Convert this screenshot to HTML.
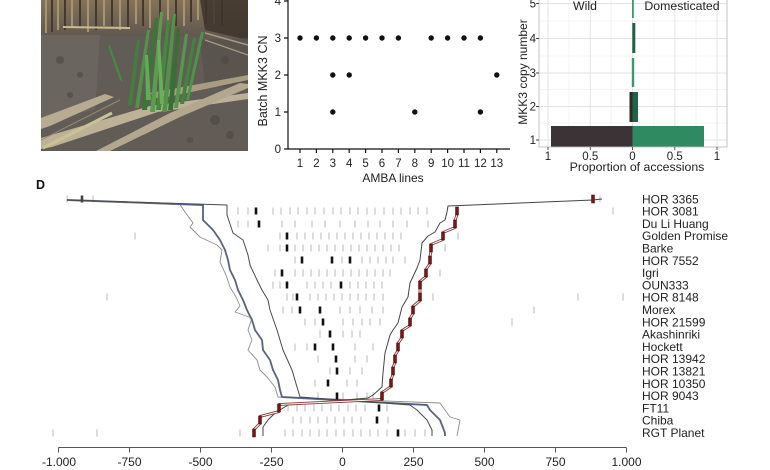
<!DOCTYPE html>
<html><head><meta charset="utf-8"><style>
html,body{margin:0;padding:0;background:#fff;}
svg{display:block;font-family:"Liberation Sans",Arial,sans-serif;}
</style></head><body>
<svg width="770" height="470" viewBox="0 0 770 470" xmlns="http://www.w3.org/2000/svg">
<rect width="770" height="470" fill="#fff"/>
<defs>
<clipPath id="ph"><rect x="41" y="0" width="207" height="151"/></clipPath>
<linearGradient id="top" x1="0" y1="0" x2="0" y2="1">
<stop offset="0" stop-color="#857358"/><stop offset="1" stop-color="#615850"/></linearGradient>
</defs>
<!-- Photo -->
<g clip-path="url(#ph)">
<rect x="41" y="0" width="207" height="151" fill="#625c57"/>
<rect x="41" y="0" width="207" height="36" fill="url(#top)"/>
<g stroke-width="2">
<path d="M46 0v33M58 0v30M72 0v28M88 0v32M104 0v26M120 0v30M136 0v24M150 0v28M168 0v22M184 0v26M198 0v20M214 0v24" stroke="#a8946e"/>
<path d="M52 0v32M65 0v30M80 0v28M96 0v30M112 0v26M128 0v28M143 0v26M160 0v24M176 0v26M191 0v22M206 0v24M222 0v26" stroke="#45392e"/>
</g>
<polygon points="200,0 248,0 248,40 205,30" fill="#3d342c" opacity="0.85"/>
<polygon points="41,35 100,35 95,110 41,120" fill="#736d67" opacity="0.5"/>
<polygon points="200,40 248,38 248,90 205,85" fill="#57514c" opacity="0.7"/>
<g fill="#4d4843" opacity="0.6">
<circle cx="60" cy="60" r="4"/><circle cx="80" cy="75" r="3"/><circle cx="215" cy="120" r="5"/><circle cx="230" cy="135" r="4"/><circle cx="190" cy="140" r="3"/><circle cx="70" cy="95" r="3"/><circle cx="225" cy="60" r="4"/>
</g>
<path d="M63 27 L130 28" stroke="#c9bd8c" stroke-width="2"/>
<path d="M205 33 L248 45" stroke="#a99b7c" stroke-width="1.5"/>
<path d="M205 40 L248 55" stroke="#a99b7c" stroke-width="1.2"/>
<!-- straw spikes -->
<polygon points="41,118 105,94 114,97 50,126 41,129" fill="#b7ac92"/>
<polygon points="41,138 150,106 248,93 248,99 158,112 52,147 41,149" fill="#bdb297"/>
<polygon points="96,151 170,113 240,83 248,84 248,88 180,117 110,151" fill="#b3a88d"/>
<polygon points="150,93 248,75 248,80 158,99" fill="#a89d82"/>
<path d="M43 148 L112 113" stroke="#c8c492" stroke-width="3"/>
<path d="M41 140 L120 100" stroke="#958a70" stroke-width="1"/>
<!-- green shoots -->
<g>
<polygon points="128,105 132,105 140,40 137,40" fill="#437f3c"/>
<polygon points="135,108 139,108 150,30 147,30" fill="#52934a"/>
<polygon points="142,110 147,110 158,18 155,18" fill="#3a7634"/>
<polygon points="150,112 155,112 163,12 160,12" fill="#599d4f"/>
<polygon points="156,110 161,110 170,20 167,20" fill="#428a3d"/>
<polygon points="162,112 167,112 176,14 173,14" fill="#4f9447"/>
<polygon points="168,110 173,110 180,28 177,28" fill="#386f32"/>
<polygon points="174,108 178,108 188,34 185,34" fill="#55984b"/>
<polygon points="180,104 184,104 196,38 193,38" fill="#43843d"/>
<polygon points="186,100 189,100 204,32 201,32" fill="#4f9446"/>
<polygon points="120,80 123,82 110,45 108,46" fill="#468a40"/>
<polygon points="146,100 151,100 148,55 145,55" fill="#67a95b"/>
<polygon points="160,104 164,104 160,40 157,40" fill="#6cad5e"/>
</g>
</g>

<!-- Dot plot -->
<g stroke="#111" stroke-width="1.2" fill="none">
<path d="M288 0 V148.5 M284 149 H510"/>
<path d="M284 112H288M284 75H288M284 38H288M284 1H288"/>
<path d="M300 149v4M316.4 149v4M332.8 149v4M349.2 149v4M365.6 149v4M382 149v4M398.4 149v4M414.8 149v4M431.2 149v4M447.6 149v4M464 149v4M480.4 149v4M496.8 149v4"/>
</g>
<g font-size="11.5" fill="#222" text-anchor="end">
<text x="281" y="153">0</text><text x="281" y="116">1</text><text x="281" y="79">2</text><text x="281" y="42">3</text><text x="281" y="5">4</text>
</g>
<g font-size="11.5" fill="#222" text-anchor="middle">
<text x="300" y="167">1</text><text x="316.4" y="167">2</text><text x="332.8" y="167">3</text><text x="349.2" y="167">4</text><text x="365.6" y="167">5</text><text x="382" y="167">6</text><text x="398.4" y="167">7</text><text x="414.8" y="167">8</text><text x="431.2" y="167">9</text><text x="447.6" y="167">10</text><text x="464" y="167">11</text><text x="480.4" y="167">12</text><text x="496.8" y="167">13</text>
<text x="393" y="182" font-size="12">AMBA lines</text>
<text transform="translate(267,81) rotate(-90)" font-size="12.5">Batch MKK3 CN</text>
</g>
<g fill="#111">
<circle cx="300" cy="38" r="2.7"/><circle cx="316.4" cy="38" r="2.7"/><circle cx="332.8" cy="38" r="2.7"/><circle cx="332.8" cy="75" r="2.7"/><circle cx="332.8" cy="112" r="2.7"/>
<circle cx="349.2" cy="38" r="2.7"/><circle cx="349.2" cy="75" r="2.7"/><circle cx="365.6" cy="38" r="2.7"/><circle cx="382" cy="38" r="2.7"/><circle cx="398.4" cy="38" r="2.7"/>
<circle cx="414.8" cy="112" r="2.7"/><circle cx="431.2" cy="38" r="2.7"/><circle cx="447.6" cy="38" r="2.7"/><circle cx="464" cy="38" r="2.7"/><circle cx="480.4" cy="38" r="2.7"/><circle cx="480.4" cy="112" r="2.7"/><circle cx="496.8" cy="75" r="2.7"/>
</g>

<!-- Bar chart -->
<g>
<path d="M569 -2V147M611 -2V147M654 -2V147M696 -2V147M539 123H727M539 89.5H727M539 56H727M539 21H727" stroke="#f1f1f1" stroke-width="0.8"/>
<path d="M548 -2V147M590.3 -2V147M632.5 -2V147M674.8 -2V147M717 -2V147M539 140H727M539 106.5H727M539 73H727M539 38.5H727M539 3.5H727" stroke="#e3e3e3" stroke-width="1"/>
<rect x="551" y="126" width="81.5" height="21" fill="#3b3335"/>
<rect x="632.5" y="126" width="71.5" height="21" fill="#2f8a62"/>
<rect x="629.5" y="92" width="3" height="30" fill="#2e2a2a"/>
<rect x="632.5" y="92" width="5.5" height="30" fill="#1f6545"/>
<rect x="631.8" y="58" width="2.4" height="29" fill="#3a9a6c"/>
<rect x="632.3" y="23" width="3" height="30" fill="#1c6242"/>
<rect x="632" y="-2" width="1.8" height="20" fill="#3a9a6c"/>
<rect x="539" y="-5" width="188" height="152" fill="none" stroke="#bdbdbd" stroke-width="0.9"/>
<path d="M536 140h3M536 106.5h3M536 73h3M536 38.5h3M536 3.5h3M548 147v3M590.3 147v3M632.5 147v3M674.8 147v3M717 147v3" stroke="#444" stroke-width="0.9"/>
</g>
<g font-size="11.5" fill="#222" text-anchor="end">
<text x="536" y="144">1</text><text x="536" y="110.5">2</text><text x="536" y="77">3</text><text x="536" y="42.5">4</text><text x="536" y="7.5">5</text>
</g>
<g font-size="11.5" fill="#222" text-anchor="middle">
<text x="548" y="160">1</text><text x="590.3" y="160">0.5</text><text x="632.5" y="160">0</text><text x="674.8" y="160">0.5</text><text x="717" y="160">1</text>
<text x="637" y="171" font-size="12.3">Proportion of accessions</text>
<text x="585" y="10" font-size="12.3">Wild</text>
<text x="682" y="10" font-size="12.3">Domesticated</text>
<text transform="translate(527,72) rotate(-90)" font-size="12">MKK3 copy number</text>
</g>

<!-- Panel D -->
<text x="36" y="189" font-size="12.5" font-weight="bold" fill="#111">D</text>

<!-- grey ticks -->
<g stroke="#b8b8b8" stroke-width="1" fill="none">
<path d="M67 195.5v7M93 195.5v7M600 195.5v7"/>
<path d="M238 207.5v7M248 207.5v7M273 207.5v7M281 207.5v7M290 207.5v7M298 207.5v7M307 207.5v7M315 207.5v7M324 207.5v7M333 207.5v7M341 207.5v7M350 207.5v7M358 207.5v7M367 207.5v7M375 207.5v7M384 207.5v7M393 207.5v7M401 207.5v7M410 207.5v7M418 207.5v7M427 207.5v7M613 207.5v7"/>
<path d="M238 220.5v7M248 220.5v7M282 220.5v7M295 220.5v7M312 220.5v7M325 220.5v7M340 220.5v7M355 220.5v7M368 220.5v7M380 220.5v7M393 220.5v7M407 220.5v7M428 220.5v7"/>
<path d="M135 232.5v7M280 232.5v7M297 232.5v7M305 232.5v7M313 232.5v7M321 232.5v7M329 232.5v7M337 232.5v7M345 232.5v7M353 232.5v7M361 232.5v7M369 232.5v7M377 232.5v7M385 232.5v7M393 232.5v7M401 232.5v7M458 232.5v7"/>
<path d="M268 244.5v7M280 244.5v7M295 244.5v7M303 244.5v7M311 244.5v7M319 244.5v7M327 244.5v7M335 244.5v7M343 244.5v7M351 244.5v7M359 244.5v7M367 244.5v7M375 244.5v7M383 244.5v7M391 244.5v7M399 244.5v7M445 244.5v7"/>
<path d="M295 256.5v7M342 256.5v7M362 256.5v7M370 256.5v7M378 256.5v7M386 256.5v7M393 256.5v7M405 256.5v7"/>
<path d="M275 269.5v7M295 269.5v7M303 269.5v7M311 269.5v7M319 269.5v7M327 269.5v7M335 269.5v7M343 269.5v7M351 269.5v7M359 269.5v7M367 269.5v7M375 269.5v7M383 269.5v7M390 269.5v7M440 269.5v7"/>
<path d="M273 281.5v7M280 281.5v7M307 281.5v7M315 281.5v7M323 281.5v7M331 281.5v7M350 281.5v7M358 281.5v7M366 281.5v7M374 281.5v7M382 281.5v7"/>
<path d="M107 293.5v7M287 293.5v7M293 293.5v7M310 293.5v7M318 293.5v7M326 293.5v7M334 293.5v7M342 293.5v7M350 293.5v7M358 293.5v7M366 293.5v7M374 293.5v7M383 293.5v7M433 293.5v7M578 293.5v7M623 293.5v7"/>
<path d="M283 306.5v7M292 306.5v7M340 306.5v7M350 306.5v7M360 306.5v7M372 306.5v7M383 306.5v7M534 306.5v7"/>
<path d="M305 318.5v7M315 318.5v7M343 318.5v7M353 318.5v7M362 318.5v7M370 318.5v7M380 318.5v7M512 318.5v7"/>
<path d="M320 330.5v7M343 330.5v7M352 330.5v7M360 330.5v7"/>
<path d="M295 343.5v7M307 343.5v7M355 343.5v7M373 343.5v7"/>
<path d="M318 355.5v7M355 355.5v7M367 355.5v7"/>
<path d="M330 367.5v7M350 367.5v7M362 367.5v7"/>
<path d="M315 379.5v7M347 379.5v7M357 379.5v7"/>
<path d="M318 392.5v7M343 392.5v7M357 392.5v7M367 392.5v7M373 392.5v7"/>
<path d="M288 404.5v7M297 404.5v7M305 404.5v7M314 404.5v7M322 404.5v7M331 404.5v7M339 404.5v7M348 404.5v7M356 404.5v7M365 404.5v7M387 404.5v7"/>
<path d="M293 416.5v7M301 416.5v7M310 416.5v7M318 416.5v7M327 416.5v7M335 416.5v7M344 416.5v7M352 416.5v7M361 416.5v7M388 416.5v7"/>
<path d="M53 429.5v7M97 429.5v7M240 429.5v7M285 429.5v7M293 429.5v7M302 429.5v7M310 429.5v7M319 429.5v7M327 429.5v7M336 429.5v7M344 429.5v7M353 429.5v7M361 429.5v7M370 429.5v7M378 429.5v7M387 429.5v7M405 429.5v7M415 429.5v7M425 429.5v7"/>
</g>

<!-- lines -->
<g fill="none" stroke-linejoin="round">
<polyline stroke="#8c8c8c" stroke-width="0.9" points="67,200 180,204.5 185,212 193,223 190,227 200,237 217,245 222,250 220,262 226,275 230,287 236,297 240,306 235,312 252,318 248,330 252,340 248,350 257,360 260,370 267,377 275,387 278,397 440,403 450,417 460,420 457,436"/>
<polyline stroke="#707070" stroke-width="1.9" points="67,200 203,205 203,220 213,230 220,240 225,250 228,260 230,270 235,280 238,290 243,300 247,310 252,320 255,330 262,340 263,350 270,360 273,370 278,380 280,390 282,397 427,405 430,410 440,420 445,433 445,436"/>
<polyline stroke="#4a6298" stroke-width="0.9" points="67,200 203,205 203,220 213,230 220,240 225,250 228,260 230,270 235,280 238,290 243,300 247,310 252,320 255,330 262,340 263,350 270,360 273,370 278,380 280,390 282,397 427,405 430,410 440,420 445,433 445,436"/>
<polyline stroke="#4a4a4a" stroke-width="1" points="67,200 227,205 227,215 233,233 243,240 248,255 250,265 257,280 262,290 268,300 270,310 277,330 283,350 292,370 297,387 300,397 410,405 417,410 427,420 432,430 432,436"/>
<polyline stroke="#444" stroke-width="1" points="602,199 593,200 448,206 447,212 445,220 440,223 435,232 428,236 422,243 420,260 417,268 410,283 408,297 402,307 398,323 393,330 390,335 385,353 383,373 382,387 373,395 368,398 288,405 275,413 268,420 263,427 263,436"/>
<polyline stroke="#8a3434" stroke-width="2.8" points="457,207 457,214.5 455,220.5 455,227.5 443,232.5 443,239.5 431,244.5 431,251.5 430,256.5 430,263.5 426,269.5 426,276.5 420,281.5 420,300.5 413,306.5 413,313.5 410,318.5 410,325.5 402,330.5 402,337.5 398,343.5 398,350.5 395,355.5 395,362.5 393,367.5 393,374.5 391,379.5 391,386.5 382,392.5 382,399.5 279,404.5 279,411.5 260,416.5 260,423.5 254,429.5 254,436.5"/>
<polyline stroke="#fff" stroke-width="1" points="457,207 457,214.5 455,220.5 455,227.5 443,232.5 443,239.5 431,244.5 431,251.5 430,256.5 430,263.5 426,269.5 426,276.5 420,281.5 420,300.5 413,306.5 413,313.5 410,318.5 410,325.5 402,330.5 402,337.5 398,343.5 398,350.5 395,355.5 395,362.5 393,367.5 393,374.5 391,379.5 391,386.5 382,392.5 382,399.5 279,404.5 279,411.5 260,416.5 260,423.5 254,429.5 254,436.5"/>
</g>

<!-- red ticks -->
<g fill="#7d1515" stroke="#3a0a0a" stroke-width="0.5">
<rect x="591.5" y="195" width="3" height="8"/><rect x="455.5" y="207" width="3" height="8"/><rect x="453.5" y="220" width="3" height="8"/><rect x="441.5" y="232" width="3" height="8"/><rect x="429.5" y="244" width="3" height="8"/><rect x="428.5" y="256" width="3" height="8"/><rect x="424.5" y="269" width="3" height="8"/><rect x="418.5" y="281" width="3" height="8"/><rect x="418.5" y="293" width="3" height="8"/><rect x="411.5" y="306" width="3" height="8"/><rect x="408.5" y="318" width="3" height="8"/><rect x="400.5" y="330" width="3" height="8"/><rect x="396.5" y="343" width="3" height="8"/><rect x="393.5" y="355" width="3" height="8"/><rect x="391.5" y="367" width="3" height="8"/><rect x="389.5" y="379" width="3" height="8"/><rect x="380.5" y="392" width="3" height="8"/><rect x="277.5" y="404" width="3" height="8"/><rect x="258.5" y="416" width="3" height="8"/><rect x="252.5" y="429" width="3" height="8"/>
</g>

<!-- black ticks -->
<g fill="#111">
<rect x="80.7" y="195.5" width="2.6" height="7" fill="#444"/>
<rect x="254.7" y="207.5" width="2.6" height="7"/><rect x="257.7" y="220.5" width="2.6" height="7"/><rect x="285.7" y="232.5" width="2.6" height="7"/><rect x="285.7" y="244.5" width="2.6" height="7"/><rect x="300.7" y="256.5" width="2.6" height="7"/><rect x="330.7" y="256.5" width="2.6" height="7"/><rect x="348.7" y="256.5" width="2.6" height="7"/><rect x="280.7" y="269.5" width="2.6" height="7"/><rect x="285.7" y="281.5" width="2.6" height="7"/><rect x="339.7" y="281.5" width="2.6" height="7"/><rect x="295.7" y="293.5" width="2.6" height="7"/><rect x="298.7" y="306.5" width="2.6" height="7"/><rect x="318.7" y="306.5" width="2.6" height="7"/><rect x="321.7" y="318.5" width="2.6" height="7"/><rect x="328.7" y="330.5" width="2.6" height="7"/><rect x="313.7" y="343.5" width="2.6" height="7"/><rect x="331.7" y="343.5" width="2.6" height="7"/><rect x="334.7" y="355.5" width="2.6" height="7"/><rect x="335.7" y="367.5" width="2.6" height="7"/><rect x="326.7" y="379.5" width="2.6" height="7"/><rect x="335.7" y="392.5" width="2.6" height="7"/><rect x="377.7" y="404.5" width="2.6" height="7"/><rect x="375.7" y="416.5" width="2.6" height="7"/><rect x="396.7" y="429.5" width="2.6" height="7"/>
</g>

<!-- row labels -->
<g font-size="12" fill="#222">
<text x="642" y="203.3">HOR 3365</text>
<text x="642" y="215.6">HOR 3081</text>
<text x="642" y="227.9">Du Li Huang</text>
<text x="642" y="240.2">Golden Promise</text>
<text x="642" y="252.5">Barke</text>
<text x="642" y="264.8">HOR 7552</text>
<text x="642" y="277.1">Igri</text>
<text x="642" y="289.4">OUN333</text>
<text x="642" y="301.7">HOR 8148</text>
<text x="642" y="314">Morex</text>
<text x="642" y="326.3">HOR 21599</text>
<text x="642" y="338.6">Akashinriki</text>
<text x="642" y="350.9">Hockett</text>
<text x="642" y="363.2">HOR 13942</text>
<text x="642" y="375.5">HOR 13821</text>
<text x="642" y="387.8">HOR 10350</text>
<text x="642" y="400.1">HOR 9043</text>
<text x="642" y="412.4">FT11</text>
<text x="642" y="424.7">Chiba</text>
<text x="642" y="437">RGT Planet</text>
</g>

<!-- x axis -->
<g stroke="#555" stroke-width="1" fill="none">
<path d="M58.5 447.5H626.5"/>
<path d="M58.5 447.5v5M129.5 447.5v5M200.5 447.5v5M271.5 447.5v5M342.5 447.5v5M413.5 447.5v5M484.5 447.5v5M555.5 447.5v5M626.5 447.5v5"/>
</g>
<g font-size="12" fill="#222" text-anchor="middle">
<text x="59" y="466">-1.000</text><text x="129.5" y="466">-750</text><text x="200.5" y="466">-500</text><text x="271.5" y="466">-250</text><text x="342.5" y="466">0</text><text x="413.5" y="466">250</text><text x="484.5" y="466">500</text><text x="555.5" y="466">750</text><text x="626.5" y="466">1.000</text>
</g>
</svg>
</body></html>
